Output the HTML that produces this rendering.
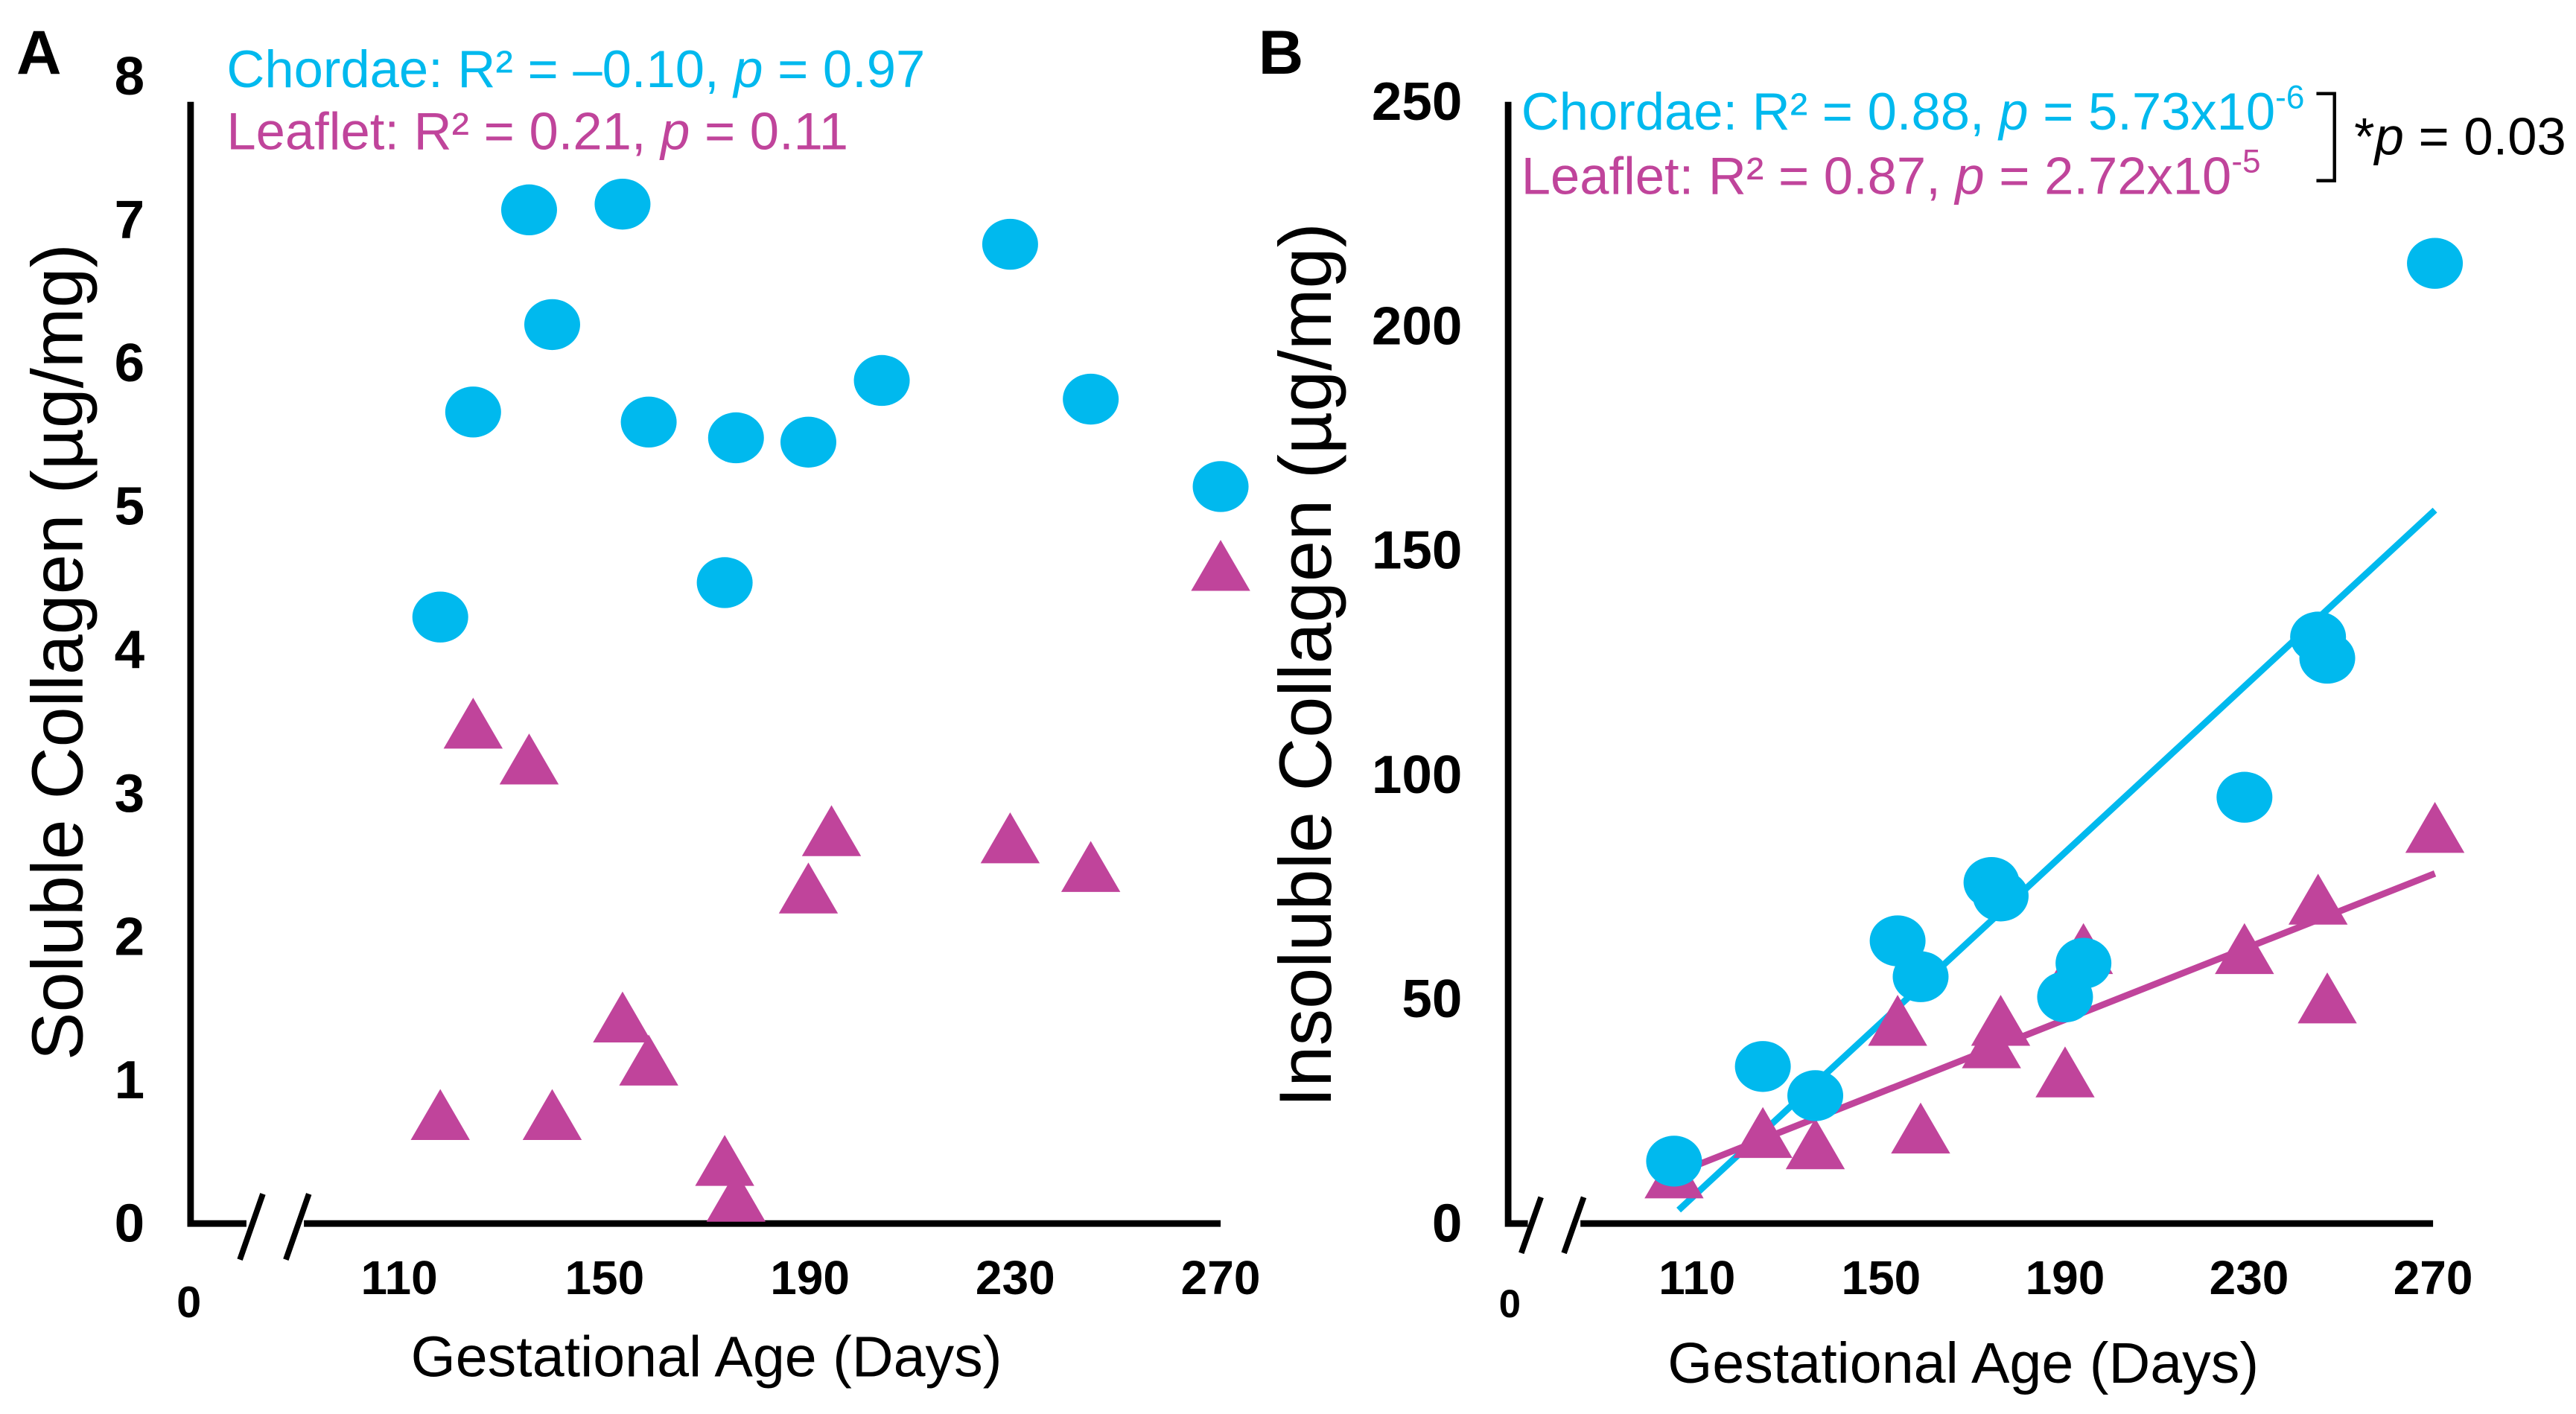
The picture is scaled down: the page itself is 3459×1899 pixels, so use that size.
<!DOCTYPE html>
<html><head><meta charset="utf-8"><style>
html,body{margin:0;padding:0;background:#fff;}
svg{display:block;}
text{font-family:"Liberation Sans",Arial,sans-serif;}
</style></head><body>
<svg id="fig" xmlns="http://www.w3.org/2000/svg" width="3459" height="1899" viewBox="0 0 1568 861" preserveAspectRatio="none">
<rect width="1568" height="861" fill="#fff"/>
<g id="pa">
<text x="10" y="45" font-size="38" font-weight="bold">A</text>
<path d="M116,62 L116,745 L150,745 M185,745 L743,745" stroke="#000" stroke-width="4" fill="none"/>
<path d="M146,767 L160,727 M174,767 L188,727" stroke="#000" stroke-width="3.5"/>
<text x="115" y="802" font-size="27" font-weight="bold" text-anchor="middle">0</text>
<text x="430" y="838" font-size="35" text-anchor="middle">Gestational Age (Days)</text>
<text transform="translate(50,397) rotate(-90)" font-size="44" text-anchor="middle">Soluble Collagen (µg/mg)</text>
<text x="138" y="53" font-size="32" fill="#00B9EE">Chordae: R² = –0.10, <tspan font-style="italic">p</tspan> = 0.97</text>
<text x="138" y="91" font-size="32" fill="#C0449B">Leaflet: R² = 0.21, <tspan font-style="italic">p</tspan> = 0.11</text>
</g>
<g id="pb">
<text x="766" y="45" font-size="38" font-weight="bold">B</text>
<path d="M918,62 L918,745 L930,745 M962,745 L1481,745" stroke="#000" stroke-width="4" fill="none"/>
<path d="M926,763 L938,729 M952,763 L964,729" stroke="#000" stroke-width="3.5"/>
<text x="919" y="802" font-size="24" font-weight="bold" text-anchor="middle">0</text>
<text x="1195" y="842" font-size="35" text-anchor="middle">Gestational Age (Days)</text>
<text transform="translate(810,405) rotate(-90)" font-size="45" text-anchor="middle">Insoluble Collagen (µg/mg)</text>
<text x="926" y="79" font-size="32" fill="#00B9EE">Chordae: R² = 0.88, <tspan font-style="italic">p</tspan> = 5.73x10<tspan font-size="20" dy="-13">-6</tspan></text>
<text x="926" y="118" font-size="32" fill="#C0449B">Leaflet: R² = 0.87, <tspan font-style="italic">p</tspan> = 2.72x10<tspan font-size="20" dy="-13">-5</tspan></text>
<path d="M1410,57 L1421,57 L1421,110 L1410,110" stroke="#000" stroke-width="2" fill="none"/>
<text x="1433" y="94" font-size="32">*<tspan font-style="italic">p</tspan> = 0.03</text>
</g>
</svg>
<script>
const xTicks = [110, 150, 190, 230, 270];
const aYTicks = [0, 1, 2, 3, 4, 5, 6, 7, 8];
const bYTicks = [0, 50, 100, 150, 200, 250];
const aChordDays = [118, 124.4, 135.3, 139.8, 153.5, 158.6, 173.4, 175.6, 189.7, 204, 229, 244.7, 270];
const aChordVals = [4.23, 5.66, 7.07, 6.27, 7.11, 5.59, 4.47, 5.48, 5.45, 5.88, 6.83, 5.75, 5.14];
const aLeafDays = [118, 124.4, 135.3, 139.8, 153.5, 158.6, 173.4, 175.6, 189.7, 194.2, 229, 244.7, 270];
const aLeafVals = [0.72, 3.45, 3.2, 0.72, 1.4, 1.1, 0.4, 0.15, 2.3, 2.7, 2.65, 2.45, 4.55];
const bDays = [105, 124.3, 135.7, 153.6, 158.6, 174, 176, 190, 194, 229, 245, 247, 270.4];
const bChordVals = [13.9, 35, 28.5, 63, 55, 76, 73, 50.5, 58, 95, 130.7, 126, 214];
const bLeafVals = [10, 19, 16.5, 44, 20, 39, 44, 32.5, 60, 60, 71, 49, 87];
const bChordFit = [[106, 3], [270.4, 159]];
const bLeafFit = [[105, 11], [270.4, 78]];

const NS = 'http://www.w3.org/2000/svg';
const CY = '#00B9EE', MG = '#C0449B';
const axA = {x: d => 243 + (d - 110) * 3.125, y: v => 745 - v * 87.3, yl: 88};
const axB = {x: d => 1033 + (d - 110) * 2.8, y: v => 745 - v * 2.732, yl: 890};
function mk(tag, parent, attrs) {
  const e = document.createElementNS(NS, tag);
  for (const k in attrs) e.setAttribute(k, attrs[k]);
  parent.appendChild(e);
  return e;
}
function draw(g, ax, yTicks, cd, cv, ld, lv, fits) {
  xTicks.forEach(t => {
    const e = mk('text', g, {x: ax.x(t), y: 788, 'font-size': 29, 'font-weight': 'bold', 'text-anchor': 'middle'});
    e.textContent = t;
    
    
  });
  yTicks.forEach(t => {
    const e = mk('text', g, {x: ax.yl, y: ax.y(t) + 11, 'font-size': 33, 'font-weight': 'bold', 'text-anchor': 'end'});
    e.textContent = t;
    
    
  });
  if (fits) fits.forEach((f, i) => {
    const l = mk('line', g, {x1: ax.x(f[0][0]), y1: ax.y(f[0][1]), x2: ax.x(f[1][0]), y2: ax.y(f[1][1]), stroke: i === 0 ? CY : MG, 'stroke-width': 4});
    
    
  });
  ld.forEach((d, i) => {
    const x = ax.x(d), y = ax.y(lv[i]);
    const p = mk('polygon', g, {points: `${x},${y - 19} ${x - 18},${y + 12} ${x + 18},${y + 12}`, fill: MG});
    
    
  });
  cd.forEach((d, i) => {
    const c = mk('ellipse', g, {cx: ax.x(d), cy: ax.y(cv[i]), rx: 17, ry: 15.5, fill: CY});
    
    
  });
}
draw(document.getElementById('pa'), axA, aYTicks, aChordDays, aChordVals, aLeafDays, aLeafVals, null);
draw(document.getElementById('pb'), axB, bYTicks, bDays, bChordVals, bDays, bLeafVals, [bChordFit, bLeafFit]);
</script>
</body></html>
